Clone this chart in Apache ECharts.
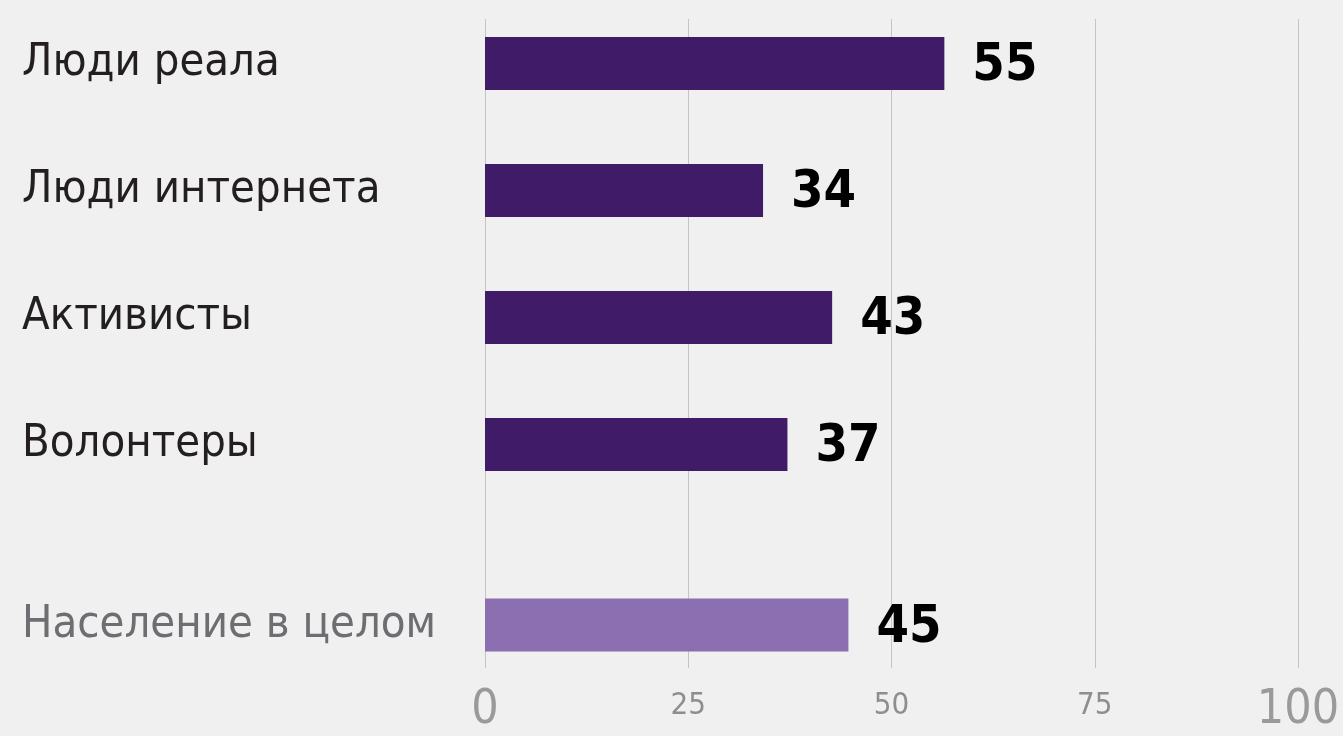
<!DOCTYPE html>
<html>
<head>
<meta charset="utf-8">
<title>chart</title>
<script src="https://cdn.jsdelivr.net/npm/echarts@6/dist/echarts.min.js"></script>
<style>
  html, body { margin: 0; padding: 0; background: #f0f0f0; }
  #main { width: 1343px; height: 736px; }
</style>
</head>
<body>
<div id="main"></div>
<script>
// данные
var groups = ['Люди реала', 'Люди интернета', 'Активисты', 'Волонтеры'];
var groupValues = [56.5, 34.2, 42.7, 37.2];
var groupLabels = ['55', '34', '43', '37'];

var totalName = ['Население в целом'];
var totalValues = [44.7];
var totalLabels = ['45'];

var xTicks = [0, 25, 50, 75, 100];

var narrow = '"Liberation Sans Narrow", "DejaVu Sans Condensed", "Noto Sans", sans-serif';

var chart = echarts.init(document.getElementById('main'));

function valueLabel(texts) {
    return {
        show: true,
        position: 'right',
        distance: 28,
        offset: [0, 3],
        fontFamily: narrow,
        fontWeight: 'bold',
        fontSize: 52,
        color: '#000',
        formatter: function (p) { return texts[p.dataIndex]; }
    };
}

var option = {
    backgroundColor: '#f0f0f0',
    animation: false,
    grid: [
        // сетка + подписи оси
        { left: 485, right: 45, top: 19, bottom: 68 },
        // 4 группы
        { left: 485, right: 45, top: -2, height: 510 },
        // население в целом
        { left: 485, right: 45, top: 561, height: 128 }
    ],
    xAxis: [
        {
            gridIndex: 0, type: 'value', min: 0, max: 100, interval: 25,
            axisLine: { show: false }, axisTick: { show: false },
            splitLine: { lineStyle: { color: '#c4c4c4', width: 1 } },
            axisLabel: {
                margin: 19,
                formatter: function (v) {
                    return (xTicks.indexOf(v) === 0 || xTicks.indexOf(v) === xTicks.length - 1)
                        ? '{big|' + v + '}' : '{small|' + v + '}';
                },
                rich: {
                    big: { fontFamily: narrow, fontSize: 48, color: '#999a9c' },
                    small: { fontFamily: narrow, fontSize: 31, color: '#8e8e90', padding: [3, 0, 0, 0] }
                }
            }
        },
        { gridIndex: 1, type: 'value', min: 0, max: 100, show: false },
        { gridIndex: 2, type: 'value', min: 0, max: 100, show: false }
    ],
    yAxis: [
        { gridIndex: 0, type: 'category', data: [''], show: false },
        {
            gridIndex: 1, type: 'category', data: groups, inverse: true,
            axisLine: { show: false }, axisTick: { show: false },
            axisLabel: {
                align: 'left', margin: 463,
                fontFamily: narrow, fontSize: 45, color: '#231f20'
            }
        },
        {
            gridIndex: 2, type: 'category', data: totalName,
            axisLine: { show: false }, axisTick: { show: false },
            axisLabel: {
                align: 'left', margin: 463,
                fontFamily: narrow, fontSize: 45, color: '#6d6e71'
            }
        }
    ],
    series: [
        {
            type: 'bar', xAxisIndex: 1, yAxisIndex: 1,
            data: groupValues, barWidth: 53,
            itemStyle: { color: '#401b68' },
            label: valueLabel(groupLabels)
        },
        {
            type: 'bar', xAxisIndex: 2, yAxisIndex: 2,
            data: totalValues, barWidth: 53,
            itemStyle: { color: '#8c6fb1' },
            label: valueLabel(totalLabels)
        }
    ]
};

chart.setOption(option);
</script>
</body>
</html>
